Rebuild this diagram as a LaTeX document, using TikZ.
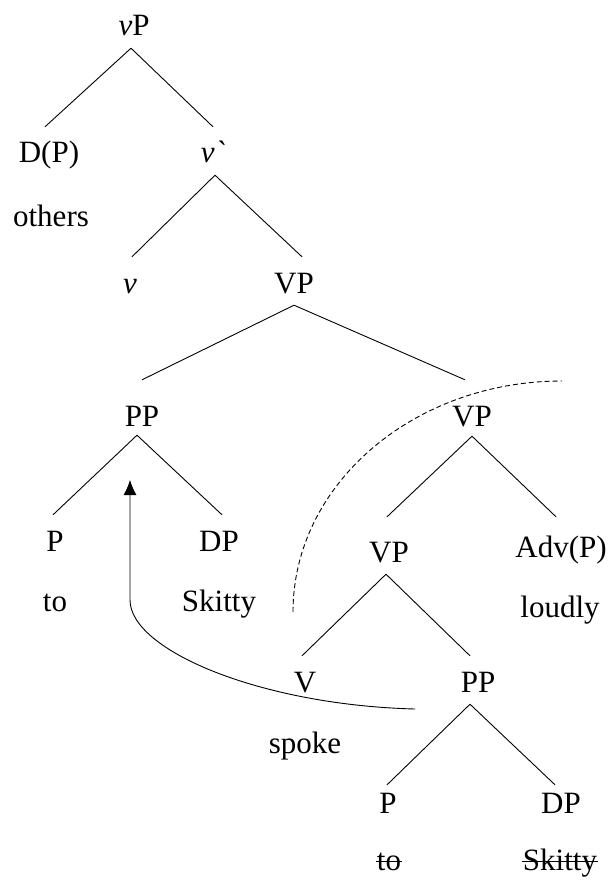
\documentclass[tikz,border=0pt]{standalone}
\usepackage{fontspec}
\setmainfont{Liberation Serif}
\usetikzlibrary{arrows.meta,calc}

\tikzset{
	cat/.style={inner sep=0pt, anchor=base, text height=36pt, text depth=12pt},
	word/.style={inner sep=0pt, anchor=base},
	branch/.style={line width=0.9pt},
}

\begin{document}
\begin{tikzpicture}[x=1pt,y=-1pt,font=\fontsize{31}{37}\selectfont]
	
	% Fix the page
	\useasboundingbox (0,0) rectangle (609,882);
	
	% Categories
	\node[cat] (vP) at (134,36) {\textit{v}P};
	\node[cat] (DP) at (49,163) {D(P)};
	\node[cat] (vbar) at (213,163) {\textit{v\textasciigrave}};
	\node[cat] (v) at (130,293) {\textit{v}};
	\node[cat] (VPa) at (294,293) {VP};
	\node[cat] (PPa) at (142,426) {PP};
	\node[cat] (VPb) at (472,426) {VP};
	\node[cat] (Pa) at (55,551) {P};
	\node[cat] (DPa) at (219,551) {DP};
	\node[cat] (VPc) at (389,562) {VP};
	\node[cat] (Adv) at (561,557) {Adv(P)};
	\node[cat] (V) at (305,692) {V};
	\node[cat] (PPb) at (478,692) {PP};
	\node[cat] (Pb) at (388,813) {P};
	\node[cat] (DPb) at (561,813) {DP};
	
	% Words
	\node[word] (others) at (51,227) {others};
	\node[word] (toa) at (55,611) {to};
	\node[word] (Skittya) at (219,611) {Skitty};
	\node[word] (loudly) at (560,617) {loudly};
	\node[word] (spoke) at (305,753) {spoke};
	\node[word] (tob) at (389,870) {to};
	\node[word] (Skittyb) at (560,870) {Skitty};
	
	% Branches
	\draw[branch] ([xshift=-3pt]vP.south) -- ([xshift=-4pt]DP.north);
	\draw[branch] ([xshift=-3pt]vP.south) -- (vbar.north);
	\draw[branch] ([xshift=2pt]vbar.south) -- ([xshift=2pt]v.north);
	\draw[branch] ([xshift=2pt]vbar.south) -- ([xshift=8pt]VPa.north);
	\draw[branch] (VPa.south) -- ([yshift=10pt]PPa.north);
	\draw[branch] (VPa.south) -- ([xshift=-7pt,yshift=10pt]VPb.north);
	\draw[branch] ([xshift=-5pt,yshift=3pt]PPa.south) -- ([xshift=-2pt]Pa.north);
	\draw[branch] ([xshift=-5pt,yshift=3pt]PPa.south) -- ([xshift=3pt]DPa.north);
	\draw[branch] ([yshift=2pt]VPb.south) -- ([xshift=-2pt,yshift=9pt]VPc.north);
	\draw[branch] ([yshift=2pt]VPb.south) -- ([xshift=-5pt,yshift=4pt]Adv.north);
	\draw[branch] ([xshift=-3pt]VPc.south) -- ([xshift=-3pt]V.north);
	\draw[branch] ([xshift=-3pt]VPc.south) -- ([xshift=-8pt]PPb.north);
	\draw[branch] ([xshift=-8pt]PPb.south) -- ([xshift=-1pt,yshift=-8pt]Pb.north);
	\draw[branch] ([xshift=-8pt]PPb.south) -- ([xshift=-6pt,yshift=-8pt]DPb.north);
	
	% Deleted copies
	\draw[branch] ([xshift=-1pt,yshift=9pt]tob.base west) -- ([xshift=1pt,yshift=9pt]tob.base east);
	\draw[branch] ([xshift=-1pt,yshift=9pt]Skittyb.base west) -- ([xshift=1pt,yshift=9pt]Skittyb.base east);
	
	% Dashed boundary
	\coordinate (bndLow) at (293,612);
	\coordinate (bndHigh) at (562,381);
	\draw[branch,dash pattern=on 5pt off 3pt] (bndLow) .. controls (293,484) and (414,381) .. (bndHigh);
	
	% Movement arrow
	\coordinate (trace) at (415,709);
	\coordinate (landing) at (130,480);
	\draw[branch,-{Latex[length=15pt,width=13pt]}] (trace) .. controls (260,705) and (130,650) .. (130,600) -- (landing);
	
\end{tikzpicture}
\end{document}
